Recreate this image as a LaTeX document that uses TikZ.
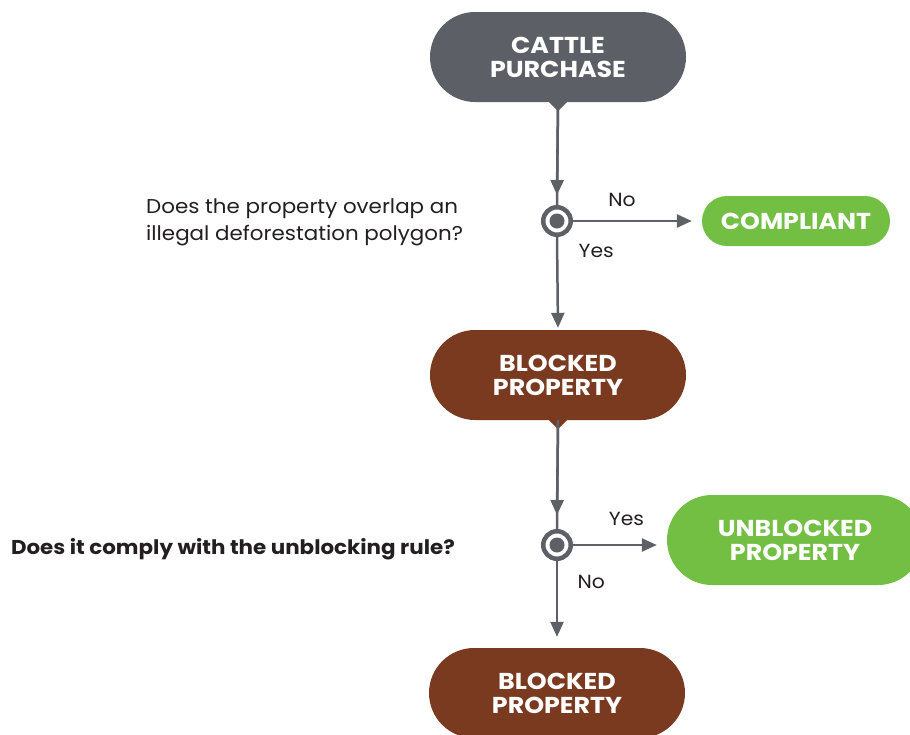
\documentclass[tikz,border=0pt]{standalone}
\usepackage{fontspec}
\setmainfont{Poppins}
\newfontfamily\stagefont{Poppins}[FakeStretch=1.1]
\newfontfamily\askfont{Poppins}[FakeStretch=1.07]
\usetikzlibrary{arrows.meta,positioning,shapes.misc}

\definecolor{purchasegray}{RGB}{93,95,102}
\definecolor{flowgray}{RGB}{94,96,104}
\definecolor{blockedbrown}{RGB}{122,58,32}
\definecolor{okgreen}{RGB}{114,191,68}
\definecolor{asktext}{RGB}{35,31,32}

\tikzset{
	stage/.style={rounded rectangle, inner sep=0pt, minimum width=256pt, minimum height=90pt,
		text=white, align=center, font=\stagefont\bfseries\fontsize{23}{24}\selectfont},
	stage color/.style={fill=#1},
	junction/.style={circle, draw=flowgray, line width=4.5pt, fill=white, inner sep=0pt,
		minimum size=27.5pt,
		path picture={\fill[flowgray] (path picture bounding box.center) circle (7.5pt);}},
	flow/.style={draw=flowgray, line width=2.5pt, -{Triangle[length=15pt,width=13pt]}},
	plain flow/.style={draw=flowgray, line width=2.5pt},
	ask/.style={text=asktext, align=left, inner sep=0pt, font=\askfont\fontsize{20}{27}\selectfont},
	answer/.style={text=asktext, font=\askfont\fontsize{19}{20}\selectfont}
}

\begin{document}
\begin{tikzpicture}[x=1pt,y=-1pt]
		\useasboundingbox (0,0) rectangle (910,734);
		% stages
		\node[stage, stage color=purchasegray] (purchase) at (558,57) {CATTLE\\PURCHASE};
		\node[junction] (overlap) at (557,221) {};
		\node[stage, stage color=okgreen, minimum width=188pt, minimum height=50pt] (compliant) at (796,221) {COMPLIANT};
		\node[stage, stage color=blockedbrown] (blocked) at (558,375) {BLOCKED\\PROPERTY};
		\node[junction] (rule) at (557,545) {};
		\node[stage, stage color=okgreen] (unblocked) at (795,540) {UNBLOCKED\\PROPERTY};
		\node[stage, stage color=blockedbrown] (stillblocked) at (557,693) {BLOCKED\\PROPERTY};
		% questions
		\node[ask, anchor=west] (q1) at (146,222) {Does the property overlap an\\illegal deforestation polygon?};
		\node[ask, anchor=east, font=\askfont\bfseries\fontsize{20}{27}\selectfont] (q2) at (455,549) {Does it comply with the unblocking rule?};
		% pointers
		\fill[purchasegray] ([xshift=-9pt]purchase.south) -- ([yshift=-9pt]purchase.south) -- ([xshift=9pt]purchase.south) -- cycle;
		\fill[blockedbrown] ([xshift=-9pt]blocked.south) -- ([yshift=-9pt]blocked.south) -- ([xshift=9pt]blocked.south) -- cycle;
		% connectors
		\draw[plain flow] (purchase.south) -- (overlap.north);
		\draw[flow] (purchase.south) -- ([yshift=10pt]overlap.north);
		\draw[flow, shorten >=10pt] (overlap.east) -- (overlap.east -| compliant.west) node[answer, pos=0.38, above=10pt] {No};
		\draw[flow, shorten >=2pt] (overlap.south) -- (blocked.north) node[answer, pos=0.15, right=17pt] {Yes};
		\draw[plain flow] (blocked.south) -- (rule.north);
		\draw[flow] (blocked.south) -- ([yshift=14pt]rule.north);
		\draw[flow, shorten >=10pt] (rule.east) -- (rule.east -| unblocked.west) node[answer, pos=0.57, above=15pt] {Yes};
		\draw[flow, shorten >=11pt] (rule.south) -- (stillblocked.north) node[answer, pos=0.24, right=16pt] {No};
	\end{tikzpicture}
\end{document}
